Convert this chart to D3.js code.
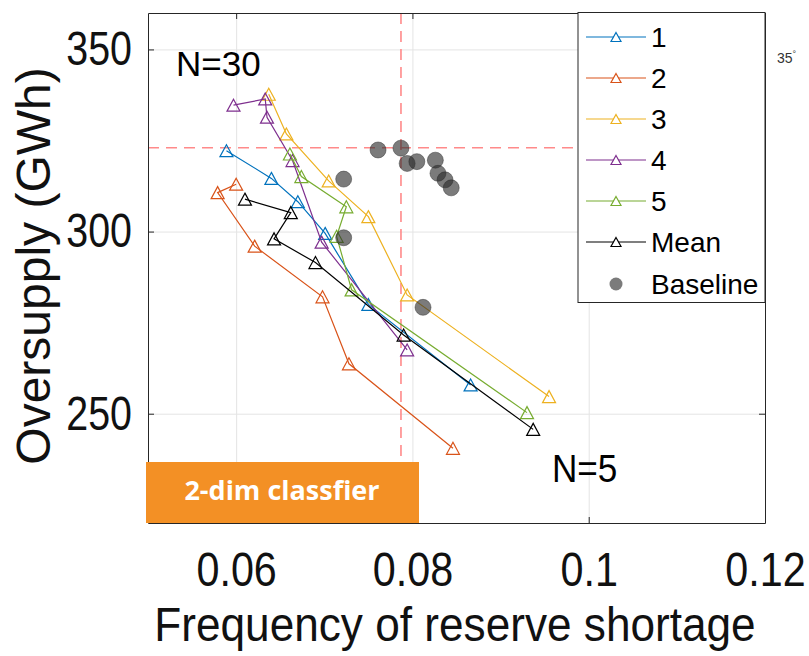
<!DOCTYPE html>
<html>
<head>
<meta charset="utf-8">
<script src="https://cdn.jsdelivr.net/npm/d3@7"></script>
<style>
  body { margin: 0; background: #fff; }
  svg { display: block; }
</style>
</head>
<body>
<script>
// values, one point per N (30 ... 5)
const series = ["1", "2", "3", "4", "5", "Mean"];
const shortage1 = [0.0589, 0.0640, 0.0670, 0.0701, 0.0750, 0.0866];
const oversupply1 = [322.2, 314.6, 308.2, 299.5, 280.0, 257.9];
const shortage2 = [0.0600, 0.0579, 0.0621, 0.0698, 0.0728, 0.0846];
const oversupply2 = [313.0, 310.7, 296.0, 282.1, 263.7, 240.5];
const shortage3 = [0.0637, 0.0657, 0.0705, 0.0750, 0.0794, 0.0955];
const oversupply3 = [337.7, 326.8, 313.9, 304.1, 282.6, 254.7];
const shortage4 = [0.0597, 0.0633, 0.0635, 0.0664, 0.0697, 0.0794];
const oversupply4 = [334.7, 336.4, 331.4, 319.5, 297.1, 267.5];
const shortage5 = [0.0661, 0.0674, 0.0725, 0.0714, 0.0731, 0.0930];
const oversupply5 = [321.3, 315.1, 306.8, 298.7, 284.0, 250.3];
const shortageMean = [0.0610, 0.0662, 0.0643, 0.0690, 0.0790, 0.0937];
const oversupplyMean = [308.9, 305.2, 298.0, 291.5, 271.6, 245.7];
const baselineShortage = [0.0761, 0.0787, 0.0794, 0.0805, 0.0826, 0.0829, 0.0837, 0.0844, 0.0722, 0.0722, 0.0812];
const baselineOversupply = [322.4, 322.9, 318.7, 319.2, 319.6, 316.0, 314.2, 312.0, 314.4, 298.3, 279.2];
const shortageLimit = 0.0787;
const oversupplyLimit = 323;
const xTicks = [0.06, 0.08, 0.1, 0.12];
const yTicks = [250, 300, 350];

const colors = ["#0072BD", "#D95319", "#EDB120", "#7E2F8E", "#77AC30", "#000000"];
const width = 809, height = 656;
const margin = {top: 13, right: 44, bottom: 133, left: 148};

const xs = [shortage1, shortage2, shortage3, shortage4, shortage5, shortageMean];
const ys = [oversupply1, oversupply2, oversupply3, oversupply4, oversupply5, oversupplyMean];
const lines = series.map((name, i) => ({
  name,
  color: colors[i],
  points: xs[i].map((v, j) => [v, ys[i][j]])
}));
const baseline = baselineShortage.map((v, i) => [v, baselineOversupply[i]]);

const x = d3.scaleLinear([0.05, 0.12], [margin.left, width - margin.right]);
const y = d3.scaleLinear([220, 360], [height - margin.bottom, margin.top]);

const svg = d3.select("body").append("svg")
    .attr("width", width)
    .attr("height", height)
    .style("font-family", "'Liberation Sans', Arial, sans-serif");

// the source text is drawn a bit narrower than plain Arial
function squeeze(sel, k) {
  sel.each(function() {
    const w = this.getComputedTextLength();
    d3.select(this).attr("textLength", w * k).attr("lengthAdjust", "spacingAndGlyphs");
  });
}

// grid
svg.append("g")
    .attr("transform", `translate(0,${height - margin.bottom})`)
    .call(d3.axisBottom(x).tickValues(xTicks).tickSize(-(height - margin.top - margin.bottom)).tickFormat(""))
    .call(g => g.select(".domain").remove())
    .call(g => g.selectAll("line").attr("stroke", "#e4e4e4"));
svg.append("g")
    .attr("transform", `translate(${margin.left},0)`)
    .call(d3.axisLeft(y).tickValues(yTicks).tickSize(-(width - margin.left - margin.right)).tickFormat(""))
    .call(g => g.select(".domain").remove())
    .call(g => g.selectAll("line").attr("stroke", "#e4e4e4"));

// thresholds
svg.append("line")
    .attr("x1", x(shortageLimit)).attr("x2", x(shortageLimit))
    .attr("y1", y.range()[1]).attr("y2", y.range()[0])
    .attr("stroke", "#ff8a8a").attr("stroke-width", 1.6).attr("stroke-dasharray", "11,7");
svg.append("line")
    .attr("x1", x.range()[0]).attr("x2", x.range()[1])
    .attr("y1", y(oversupplyLimit)).attr("y2", y(oversupplyLimit))
    .attr("stroke", "#ff8a8a").attr("stroke-width", 1.6).attr("stroke-dasharray", "11,7");

const tri = (w, h) => `M0,${-h / 2}L${w / 2},${h / 2}L${-w / 2},${h / 2}Z`;
const line = d3.line().x(d => x(d[0])).y(d => y(d[1]));

const run = svg.append("g")
  .selectAll("g")
  .data(lines)
  .join("g")
    .attr("stroke", d => d.color)
    .attr("fill", "none")
    .attr("stroke-width", 1.2);

run.append("path")
    .attr("d", d => line(d.points));

run.selectAll(".mark")
  .data(d => d.points)
  .join("path")
    .attr("class", "mark")
    .attr("transform", d => `translate(${x(d[0])},${y(d[1])})`)
    .attr("d", tri(13, 12));

svg.append("g")
  .selectAll("circle")
  .data(baseline)
  .join("circle")
    .attr("cx", d => x(d[0]))
    .attr("cy", d => y(d[1]))
    .attr("r", 8)
    .attr("fill", "#2a2a2a")
    .attr("fill-opacity", 0.62)
    .attr("stroke", "#2a2a2a")
    .attr("stroke-opacity", 0.45);

// axes
const axisColor = "#262626";
const axes = svg.append("g").attr("class", "axes");
axes.append("g")
    .attr("transform", `translate(0,${height - margin.bottom})`)
    .call(d3.axisBottom(x).tickValues(xTicks).tickSizeInner(-6).tickSizeOuter(0).tickPadding(29).tickFormat(d => String(d)))
    .call(g => g.selectAll("text").attr("font-size", 48).attr("fill", "#111").call(squeeze, 0.86));
axes.append("g")
    .attr("transform", `translate(0,${margin.top})`)
    .call(d3.axisTop(x).tickValues(xTicks).tickSizeInner(-6).tickSizeOuter(0).tickFormat(""));
axes.append("g")
    .attr("transform", `translate(${margin.left},0)`)
    .call(d3.axisLeft(y).tickValues(yTicks).tickSizeInner(-6).tickSizeOuter(0).tickPadding(16))
    .call(g => g.selectAll("text").attr("font-size", 48).attr("fill", "#111").call(squeeze, 0.82));
axes.append("g")
    .attr("transform", `translate(${width - margin.right},0)`)
    .call(d3.axisRight(y).tickValues(yTicks).tickSizeInner(-6).tickSizeOuter(0).tickFormat(""));
axes.selectAll(".domain, .tick line").attr("stroke", axisColor);

svg.append("text")
    .attr("x", 455)
    .attr("y", 641)
    .attr("text-anchor", "middle")
    .attr("font-size", 48)
    .attr("fill", "#111")
    .text("Frequency of reserve shortage")
    .call(squeeze, 0.92);

svg.append("text")
    .attr("transform", "translate(50,266) rotate(-90)")
    .attr("text-anchor", "middle")
    .attr("font-size", 48)
    .attr("fill", "#111")
    .text("Oversupply (GWh)");

svg.append("text")
    .attr("x", 176).attr("y", 76)
    .attr("font-size", 35)
    .text("N=30");
svg.append("text")
    .attr("x", 552).attr("y", 482)
    .attr("font-size", 39)
    .text("N=5")
    .call(squeeze, 0.9);

// legend
const legend = svg.append("g");
legend.append("rect")
    .attr("x", 578).attr("y", 12.5)
    .attr("width", 187).attr("height", 290)
    .attr("fill", "#fff")
    .attr("stroke", axisColor);

const rowY = i => 37 + i * 41;
const item = legend.selectAll(".item")
  .data(lines)
  .join("g")
    .attr("class", "item")
    .attr("transform", (d, i) => `translate(0,${rowY(i)})`);
item.append("line")
    .attr("x1", 586).attr("x2", 646)
    .attr("stroke", d => d.color).attr("stroke-width", 1.2);
item.append("path")
    .attr("transform", "translate(616,0)")
    .attr("d", tri(10, 9))
    .attr("fill", "#fff")
    .attr("stroke", d => d.color).attr("stroke-width", 1.2);
item.append("text")
    .attr("x", 651).attr("dy", "0.35em")
    .attr("font-size", 28)
    .text(d => d.name);

const base = legend.append("g")
    .attr("transform", `translate(0,${rowY(6) + 1})`);
base.append("circle")
    .attr("cx", 616).attr("r", 6.5)
    .attr("fill", "#2a2a2a").attr("fill-opacity", 0.62);
base.append("text")
    .attr("x", 651).attr("dy", "0.35em")
    .attr("font-size", 28)
    .text("Baseline");

svg.append("text")
    .attr("x", 777).attr("y", 63)
    .attr("font-size", 14)
    .attr("fill", "#333")
    .text("35")
  .append("tspan")
    .attr("dy", -6)
    .attr("font-size", 9)
    .text("°");

// label box
svg.append("rect")
    .attr("x", 146).attr("y", 462)
    .attr("width", 273).attr("height", 61)
    .attr("fill", "#f39025");
svg.append("text")
    .attr("x", 282).attr("y", 500)
    .attr("text-anchor", "middle")
    .attr("font-family", "'Open Sans', sans-serif")
    .attr("font-weight", "bold")
    .attr("font-size", 27)
    .attr("fill", "#fff")
    .text("2-dim classfier");
</script>
</body>
</html>
